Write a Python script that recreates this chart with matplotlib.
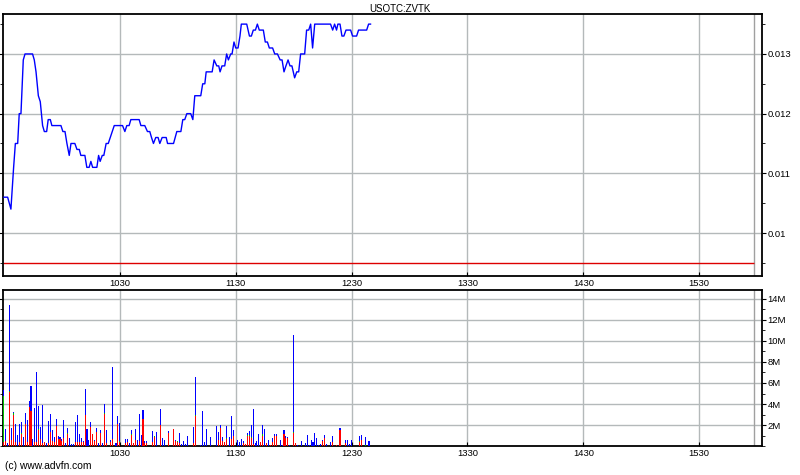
import numpy as np
import matplotlib
matplotlib.use('Agg')
import matplotlib.pyplot as plt
from matplotlib.ticker import FuncFormatter, MultipleLocator

plt.rcParams['font.family'] = ['Liberation Sans', 'DejaVu Sans']

# price data: minutes after 09:30 and price
price_min = [0, 1.9, 3.6, 5, 5.9, 7.1, 7.9, 8.8, 10, 10.9, 14.8, 15.7, 16.6, 17.8, 18.8, 20, 20.9, 22.1,
             22.9, 24, 24.8, 29.5, 30.5, 31.6, 32.6, 33.8, 34.7, 36.7, 37.8, 39, 39.8, 41.9, 42.9, 44.1,
             45, 45.9, 48.1, 49, 49.8, 50.9, 51.7, 52.9, 54, 57.1, 61.4, 62.6, 63.6, 64.8, 65.7, 70, 70.9,
             72.9, 74.3, 75.5, 76.4, 77.4, 78.6, 79.8, 80.7, 81.9, 84, 84.7, 87.8, 89.5, 91.6, 92.6, 93.6,
             94.7, 96.7, 97.8, 98.8, 101.9, 102.9, 104, 104.7, 107.8, 108.8, 110.2, 111.2, 111.9, 112.9,
             114.3, 115.3, 116.2, 117.4, 118.1, 119.1, 120, 121.2, 122.2, 122.9, 125.7, 127.1, 128.1,
             129.1, 130.2, 131.2, 132.2, 134.3, 135.3, 136.4, 137.4, 139.1, 140.2, 141.6, 143, 144, 145,
             146, 147.1, 148.1, 149.1, 150.5, 151.6, 152.6, 153.6, 155.7, 156.7, 157.8, 158.8, 159.8,
             160.9, 169.1, 170.2, 171.2, 172.2, 172.9, 174, 175, 176, 177.1, 179.5, 180.5, 182.6, 183.6,
             187.8, 188.8, 189.8]
price = [0.0106, 0.0106, 0.0104, 0.0111, 0.0115, 0.0115, 0.0120, 0.0120, 0.0129, 0.0130, 0.0130, 0.0129,
         0.0127, 0.0123, 0.0122, 0.0118, 0.0117, 0.0117, 0.0119, 0.0119, 0.0118, 0.0118, 0.0117, 0.0117,
         0.0115, 0.0113, 0.0115, 0.0115, 0.0114, 0.0114, 0.0113, 0.0113, 0.0111, 0.0111, 0.0112, 0.0111,
         0.0111, 0.0113, 0.0112, 0.0113, 0.0113, 0.0115, 0.0115, 0.0118, 0.0118, 0.0117, 0.0118, 0.0118,
         0.0119, 0.0119, 0.0118, 0.0118, 0.0117, 0.0117, 0.0116, 0.0115, 0.0116, 0.0116, 0.0115, 0.0116,
         0.0116, 0.0115, 0.0115, 0.0117, 0.0117, 0.0119, 0.0119, 0.0120, 0.0120, 0.0119, 0.0123, 0.0123,
         0.0125, 0.0125, 0.0127, 0.0127, 0.0129, 0.0128, 0.0128, 0.0127, 0.0128, 0.0128, 0.0130, 0.0129,
         0.0130, 0.0130, 0.0132, 0.0131, 0.0131, 0.0133, 0.0135, 0.0135, 0.0133, 0.0133, 0.0134, 0.0134,
         0.0135, 0.0134, 0.0134, 0.0132, 0.0132, 0.0131, 0.0131, 0.0130, 0.0130, 0.0129, 0.0129, 0.0127,
         0.0128, 0.0129, 0.0128, 0.0128, 0.0126, 0.0127, 0.0127, 0.0130, 0.0130, 0.0134, 0.0134, 0.0135,
         0.0131, 0.0135, 0.0135, 0.0134, 0.0135, 0.0134, 0.0135, 0.0135, 0.0133, 0.0133, 0.0134, 0.0134,
         0.0133, 0.0133, 0.0134, 0.0134, 0.0135, 0.0135]
prev_close = 0.0095

# volume bars (millions): minute, total, red part
bar_min = [0, 1, 2, 3, 4, 5, 6, 7, 8, 9, 10, 11, 12, 13, 14, 15, 16, 17, 18, 19, 20, 21, 22, 23, 24,
           25, 26, 27, 28, 29, 30, 31, 32, 33, 34, 35, 36, 37, 38, 39, 40, 41, 42, 43, 44, 45, 46, 47,
           48, 49, 50, 51, 52, 53, 55, 56, 58, 59, 60, 63, 64, 65, 66, 67, 68, 69, 70, 71, 72, 73, 74,
           77, 78, 79, 81, 82, 83, 85, 88, 89, 90, 91, 92, 93, 94, 95, 98, 99, 102, 103, 104, 105, 107,
           110, 111, 112, 113, 114, 115, 117, 118, 119, 121, 122, 123, 124, 125, 126, 127, 128, 129,
           130, 131, 132, 133, 134, 135, 136, 137, 138, 139, 140, 141, 143, 144, 145, 146, 147, 148,
           150, 151, 152, 154, 156, 157, 158, 159, 160, 161, 162, 163, 164, 165, 166, 167, 169, 170,
           172, 174, 177, 178, 179, 180, 184, 185, 187, 189]
bar_total = [5.3, 1.6, 0.3, 13.4, 1.7, 3.25, 2.1, 1.05, 2.05, 2.3, 0.9, 3.15, 2.5, 4.25, 5.7, 0.65, 3.6,
             7.05, 3.8, 1.8, 3.9, 0.4, 0.25, 2.4, 3.05, 1.55, 0.9, 2.6, 1.0, 0.9, 0.7, 2.5, 0.3, 1.75,
             0.8, 0.2, 0.2, 2.3, 3.0, 1.15, 0.8, 0.5, 5.45, 1.65, 0.6, 2.3, 1.15, 0.6,
             1.75, 0.25, 1.55, 0.3, 4.0, 1.55, 0.6, 7.5, 0.25, 2.9, 2.2, 0.7, 0.7, 0.3, 1.55, 0.25, 1.65,
             0.6, 3.05, 1.05, 3.45, 0.5, 0.5, 1.45, 1.0, 1.35, 3.55, 0.8, 0.55, 1.45, 1.65, 0.6, 0.5,
             1.25, 0.2, 0.5, 0.2, 1.0, 1.8, 6.55, 0.1, 3.35, 0.4, 1.65, 0.9, 1.95, 1.35, 2.0, 0.9, 0.4,
             1.95, 0.9, 2.9, 1.55, 0.6, 0.4, 0.7, 0.45, 0.2, 1.25, 1.45, 2.0, 3.55, 0.25, 0.5, 1.15,
             0.4, 2.0, 1.65, 0.3, 0.6, 0.1, 0.8, 1.15, 1.15, 0.6, 0.1, 1.55, 1.0, 0.9, 0.1, 10.55, 0.3,
             0.1, 0.5, 0.3, 1.05, 0.1, 0.6, 0.4, 1.25, 0.8, 0.1, 0.2, 0.6, 1.05, 0.2, 0.4, 1.0, 0.1,
             1.75, 0.6, 0.6, 0.2, 0.6, 1.0, 1.05, 0.9, 0.5]
bar_red = [0.35, 0.45, 0, 5.1, 0.6, 3.0, 0.35, 0, 0.35, 1.1, 0, 2.1, 0.35, 3.7, 3.35, 0, 0.35, 0.4, 1.5,
           0.65, 0.25, 0.4, 0, 0.3, 1.35, 0.45, 0.35, 1.9, 0.65, 0.65, 0.5, 0.8, 0, 1.15, 0, 0, 0, 0.35,
           0.35, 0.35, 0.35, 0.35, 3.0, 0, 0, 1.85, 1.15, 0.45,
           1.35, 0, 1.2, 0, 3.05, 0.25, 0.35, 0.65, 0, 2.05, 0.4, 0.25, 0.4, 0, 1.05, 0.25, 0.6, 0, 0.5,
           0, 2.6, 0.25, 0.25, 0.4, 0.9, 0, 2.0, 0, 0, 1.25, 1.6, 0.45, 0.35, 0.3, 0, 0, 0, 0, 0.25,
           2.9, 0, 0, 0, 0, 0, 0, 0.6, 1.75, 0.5, 0.4, 0.7, 0, 0.7, 1.0, 0, 0, 0, 0.25, 0.2, 1.0, 1.0,
           0.8, 0.2, 0, 0, 0, 0.4, 1.0, 0, 0.3, 0, 0.1, 0.4, 1.0, 1.0, 0, 0, 1.15, 0.8, 0.8, 0, 1.25,
           0.3, 0, 0, 0, 0, 0, 0, 0, 0, 0, 0, 0, 0.5, 0.8, 0, 0, 0.4, 0.1, 1.55, 0.25, 0, 0, 0, 0.4,
           0.6, 0, 0]
# small green (unchanged) parts
green_min = [0, 3, 5, 9, 18, 33, 52, 56, 59, 60, 66, 78, 90, 99, 115, 126, 127, 128, 134, 150, 184, 187]
green_vol = [4.4, 0.1, 0.1, 0.1, 0.1, 0.1, 0.1, 0.05, 0.05, 0.05, 0.1, 0.1, 0.1, 0.1, 0.1, 0.05, 0.05,
             0.05, 0.1, 0.05, 0.1, 0.1]

tick_pos = [60, 120, 180, 240, 300, 360]
tick_labels = ['1030', '1130', '1230', '1330', '1430', '1530']
title = 'USOTC:ZVTK'

# build stacked parts
bar_min = np.array(bar_min)
bar_total = np.array(bar_total)
bar_red = np.array(bar_red)
bar_green = np.zeros(len(bar_min))
for m, g in zip(green_min, green_vol):
    bar_green[bar_min == m] = g
bar_blue = np.clip(bar_total - bar_red - bar_green, 0, None)

fig = plt.figure(figsize=(8, 4.75), dpi=100)
ax1 = fig.add_axes([0.00375, 0.419, 0.94875, 0.5516])
ax2 = fig.add_axes([0.00375, 0.061, 0.94875, 0.3284])

grid_col = '#b4b9ba'
xmax = 392.5
close_line = 388.5

for ax in (ax1, ax2):
    ax.set_xlim(-0.5, xmax)
    ax.set_xticks(tick_pos)
    ax.set_xticklabels(tick_labels)
    ax.grid(color=grid_col, linewidth=1.0, linestyle='-')
    ax.set_axisbelow(True)
    ax.axvline(close_line, color='#a0a0a0', linewidth=1.0, zorder=1)
    ax.yaxis.tick_right()
    ax.tick_params(axis='x', direction='in', length=3, labelsize=6.8, pad=2.5, top=False)
    ax.tick_params(axis='y', which='major', direction='out', length=3, labelsize=6.8, pad=1,
                   left=True, right=True)
    ax.tick_params(axis='y', which='minor', direction='out', length=2, left=True, right=True)
    for s in ax.spines.values():
        s.set_linewidth(1.3)
        s.set_color('black')

# price panel
ax1.plot(price_min, price, color='#0000ff', linewidth=1.0, zorder=3)
ax1.hlines(prev_close, -0.5, close_line, color='#dd0000', linewidth=1.0, zorder=2)
ax1.set_ylim(0.00928, 0.01367)
ax1.set_yticks([0.010, 0.011, 0.012, 0.013])
ax1.set_yticklabels(['0.01', '0.011', '0.012', '0.013'])
ax1.yaxis.set_minor_locator(MultipleLocator(0.0005))
ax1.grid(which='minor', visible=False)

# volume panel
w = 0.55
ax2.bar(bar_min, bar_red, width=w, color='#ff0000', linewidth=0, zorder=3)
ax2.bar(bar_min, bar_green, width=w, bottom=bar_red, color='#00c000', linewidth=0, zorder=3)
ax2.bar(bar_min, bar_blue, width=w, bottom=bar_red + bar_green, color='#0000ff', linewidth=0, zorder=3)
ax2.set_ylim(0, 14.85)
ax2.set_yticks([2, 4, 6, 8, 10, 12, 14])
ax2.yaxis.set_major_formatter(FuncFormatter(lambda v, p: '%dM' % v))
ax2.yaxis.set_minor_locator(MultipleLocator(1))
ax2.grid(which='minor', visible=False)

fig.text(0.5, 0.981, title, ha='center', va='center', fontsize=7)
fig.text(0.006, 0.018, '(c) www.advfn.com', ha='left', va='center', fontsize=7.4)

fig.savefig('out.png', dpi=100)
